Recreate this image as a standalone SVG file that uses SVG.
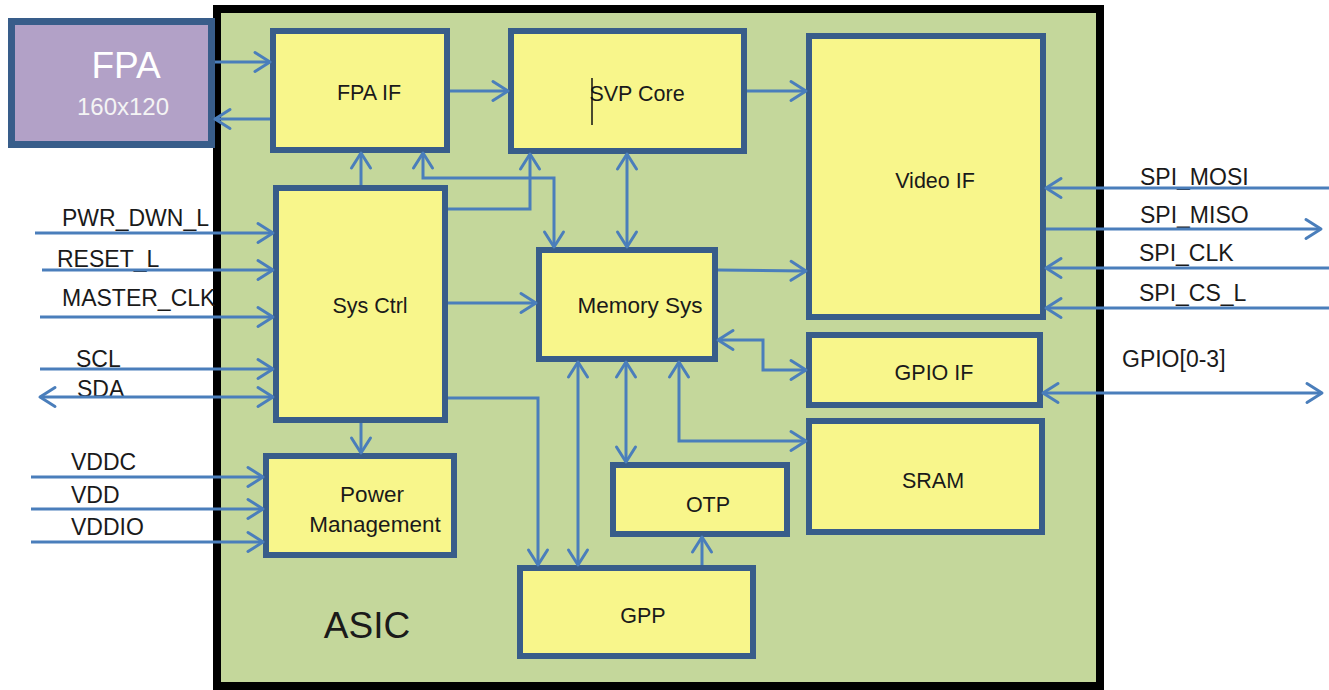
<svg xmlns="http://www.w3.org/2000/svg" width="1329" height="690" viewBox="0 0 1329 690">
<defs>
<marker id="ah" markerUnits="userSpaceOnUse" markerWidth="30" markerHeight="30" viewBox="-20 -15 30 30" refX="0" refY="0" orient="auto-start-reverse" overflow="visible">
<path d="M-15,-9.5 L0,0 L-15,9.5" fill="none" stroke="#4A7EBB" stroke-width="3" stroke-linejoin="round" stroke-linecap="round"/>
</marker>
<style>
.box{fill:#F8F68B;stroke:#385D8A;stroke-width:6}
.lbl{font-family:"Liberation Sans",Arial,sans-serif;font-size:21.5px;fill:#1A1A1A;text-anchor:middle}
.sig{font-family:"Liberation Sans",Arial,sans-serif;font-size:23px;fill:#1A1A1A}
.c{fill:none;stroke:#4A7EBB;stroke-width:3}
.e{marker-end:url(#ah)}
.b{marker-start:url(#ah);marker-end:url(#ah)}
</style>
</defs>
<rect width="1329" height="690" fill="#FFFFFF"/>
<g id="asic">
<rect x="217" y="9" width="883" height="677" fill="#C4D79B" stroke="#000000" stroke-width="8"/>
<text x="367" y="638" class="lbl" style="font-size:37px">ASIC</text>
</g>
<g id="fpa">
<rect x="11.5" y="21.5" width="200" height="123" fill="#B2A1C7" stroke="#385D8A" stroke-width="7"/>
<text x="126" y="78" class="lbl" style="font-size:37px;fill:#FFFFFF">FPA</text>
<text x="123" y="115" class="lbl" style="font-size:24px;fill:#F4F4F4">160x120</text>
</g>
<g id="fpa-if"><rect class="box" x="273" y="31" width="174" height="119"/><text class="lbl" x="369" y="100">FPA IF</text></g>
<g id="svp-core"><rect class="box" x="511" y="31" width="233" height="120"/><text class="lbl" x="637" y="101">SVP Core</text><line x1="592" y1="78" x2="592" y2="125" stroke="#111111" stroke-width="1.5"/></g>
<g id="video-if"><rect class="box" x="809" y="36" width="234" height="281"/><text class="lbl" x="935" y="188">Video IF</text></g>
<g id="sys-ctrl"><rect class="box" x="276" y="188" width="169" height="232"/><text class="lbl" x="370" y="313">Sys Ctrl</text></g>
<g id="memory-sys"><rect class="box" x="539" y="250" width="176" height="109"/><text class="lbl" x="640" y="313" style="font-size:22.5px">Memory Sys</text></g>
<g id="gpio-if"><rect class="box" x="809" y="335" width="231" height="70"/><text class="lbl" x="934" y="380">GPIO IF</text></g>
<g id="sram"><rect class="box" x="809" y="421" width="233" height="111"/><text class="lbl" x="933" y="488">SRAM</text></g>
<g id="otp"><rect class="box" x="613" y="465" width="174" height="69"/><text class="lbl" x="708" y="512">OTP</text></g>
<g id="gpp"><rect class="box" x="520" y="568" width="233" height="88"/><text class="lbl" x="643" y="623">GPP</text></g>
<g id="power-management"><rect class="box" x="266" y="456" width="188" height="99"/><text class="lbl" x="372" y="502" style="font-size:22.5px">Power</text><text class="lbl" x="375" y="532" style="font-size:22.5px">Management</text></g>
<g id="signal-labels">
<text class="sig" x="62" y="226">PWR_DWN_L</text>
<text class="sig" x="57" y="267">RESET_L</text>
<text class="sig" x="62" y="306">MASTER_CLK</text>
<text class="sig" x="76" y="367">SCL</text>
<text class="sig" x="77" y="397">SDA</text>
<text class="sig" x="71" y="470">VDDC</text>
<text class="sig" x="71" y="503">VDD</text>
<text class="sig" x="71" y="535">VDDIO</text>
<text class="sig" x="1140" y="185">SPI_MOSI</text>
<text class="sig" x="1140" y="223">SPI_MISO</text>
<text class="sig" x="1139" y="261">SPI_CLK</text>
<text class="sig" x="1139" y="301">SPI_CS_L</text>
<text class="sig" x="1122" y="367">GPIO[0-3]</text>
</g>
<g id="connectors">
<path class="c e" d="M215,62 H270"/>
<path class="c e" d="M270,119 H215"/>
<path class="c e" d="M450,91 H508"/>
<path class="c e" d="M747,91 H806"/>
<path class="c e" d="M361,185 V153"/>
<path class="c b" d="M423,153 V178 H554 V247"/>
<path class="c e" d="M448,209 H530 V154"/>
<path class="c b" d="M627,154 V247"/>
<path class="c e" d="M448,303 H536"/>
<path class="c e" d="M718,270 L806,271"/>
<path class="c e" d="M448,398 H538 V565"/>
<path class="c b" d="M578,362 V565"/>
<path class="c b" d="M626,362 V462"/>
<path class="c b" d="M679,362 V441 H806"/>
<path class="c b" d="M718,340 H763 V370 H806"/>
<path class="c e" d="M702,565 V537"/>
<path class="c e" d="M361,423 V453"/>
<path class="c e" d="M35,233 H273"/>
<path class="c e" d="M42,270 H273"/>
<path class="c e" d="M40,317 H273"/>
<path class="c e" d="M40,369 H273"/>
<path class="c b" d="M40,397 H273"/>
<path class="c e" d="M31,477 H263"/>
<path class="c e" d="M31,509 H263"/>
<path class="c e" d="M31,542 H263"/>
<path class="c e" d="M1329,188 H1046"/>
<path class="c e" d="M1046,229 H1321"/>
<path class="c e" d="M1329,268 H1046"/>
<path class="c e" d="M1329,308 H1046"/>
<path class="c b" d="M1043,393 H1322"/>
</g>
</svg>
